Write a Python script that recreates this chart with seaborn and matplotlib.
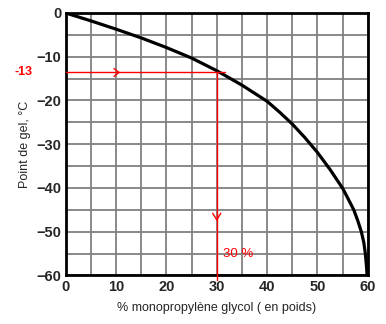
import matplotlib
matplotlib.use("Agg")
import matplotlib.pyplot as plt
import seaborn as sns
import pandas as pd

# Data
concentration = [0, 5, 10, 15, 20, 25, 30, 35, 40, 42.5, 45, 47.5, 50, 52.5, 55, 56, 57.2,
                 58.0, 58.7, 59.2, 59.5, 59.7, 59.85]
freezing_point = [0, -1.8, -3.7, -5.7, -7.9, -10.3, -13.2, -16.5, -20.2, -22.7, -25.4, -28.5,
                  -31.9, -35.8, -40.1, -42.3, -45, -47.5, -50, -52.5, -55, -57.5, -60]
x_ticks = [0, 10, 20, 30, 40, 50, 60]
y_ticks = [0, -10, -20, -30, -40, -50, -60]
example_pct = 30
example_temp = -13
example_label = "-13"
example_pct_label = "30 %"

df = pd.DataFrame({"c": concentration, "t": freezing_point})

sns.set_theme(style="white")
plt.rcParams['font.family'] = ['Liberation Sans', 'DejaVu Sans']

fig = plt.figure(figsize=(3.86, 3.24), dpi=100)
ax = fig.add_axes([0.170, 0.150, 0.783, 0.810])

sns.lineplot(data=df, x="c", y="t", ax=ax, color="black", linewidth=2.3, zorder=5,
             sort=False)

ax.set_xlim(0, 60)
ax.set_ylim(-60, 0)
ax.set_xticks(x_ticks)
ax.set_yticks(y_ticks)
ax.set_xticks(range(0, 61, 5), minor=True)
ax.set_yticks(range(-60, 1, 5), minor=True)
ax.grid(True, which="both", color="#808080", linewidth=1.3)
ax.tick_params(which="both", length=0)
ax.tick_params(axis="both", labelsize=10.5, pad=3)
for lab in ax.get_xticklabels() + ax.get_yticklabels():
    lab.set_fontweight("bold")
for s in ax.spines.values():
    s.set_color("black")
    s.set_linewidth(2)

ax.set_xlabel("% monopropylène glycol ( en poids)", fontsize=9, labelpad=6)
ax.set_ylabel("Point de gel, °C", fontsize=9, labelpad=4)

# Red reading lines
red = "#ff0000"
line_y = example_temp - 0.6
ax.plot([0, 31.7], [line_y, line_y], color=red, linewidth=1, zorder=6)
ax.plot([example_pct, example_pct], [line_y, -61], color=red, linewidth=1,
        zorder=6, clip_on=False)
ax.plot([9.6, 10.6, 9.6], [line_y + 0.9, line_y, line_y - 0.9],
        color=red, linewidth=1, zorder=6)
ax.plot([29.2, example_pct, 30.8], [-45.8, -47.3, -45.8], color=red, linewidth=1, zorder=6)
ax.text(-6.5, line_y, example_label, color=red, fontsize=9, fontweight="bold",
        ha="right", va="center", clip_on=False)
ax.text(31.3, -55.2, example_pct_label, color=red, fontsize=9.5, ha="left", va="center",
        zorder=7)

fig.savefig("out.png", dpi=100)
